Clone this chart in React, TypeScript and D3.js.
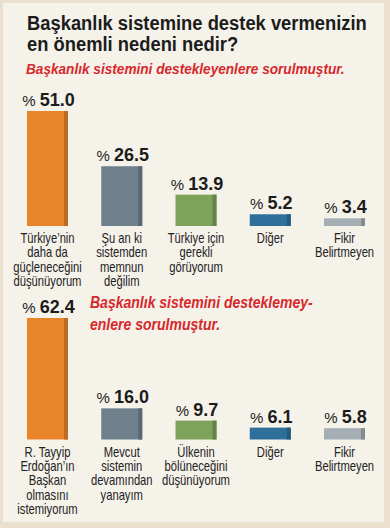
import React, { useEffect, useRef } from 'react';
import * as d3 from 'd3';

// Data
const titleLines = ['Başkanlık sistemine destek vermenizin', 'en önemli nedeni nedir?'];
const subtitle1 = ['Başkanlık sistemini destekleyenlere sorulmuştur.'];
const subtitle2 = ['Başkanlık sistemini desteklemey-', 'enlere sorulmuştur.'];

const categories1 = [
  ['Türkiye’nin', 'daha da', 'güçleneceğini', 'düşünüyorum'],
  ['Şu an ki', 'sistemden', 'memnun', 'değilim'],
  ['Türkiye için', 'gerekli', 'görüyorum'],
  ['Diğer'],
  ['Fikir', 'Belirtmeyen'],
];
const values1 = [51.0, 26.5, 13.9, 5.2, 3.4];

const categories2 = [
  ['R. Tayyip', 'Erdoğan’ın', 'Başkan', 'olmasını', 'istemiyorum'],
  ['Mevcut', 'sistemin', 'devamından', 'yanayım'],
  ['Ülkenin', 'bölüneceğini', 'düşünüyorum'],
  ['Diğer'],
  ['Fikir', 'Belirtmeyen'],
];
const values2 = [62.4, 16.0, 9.7, 6.1, 5.8];

const barColors = ['#e8852b', '#6d808c', '#7da25a', '#2f6f9c', '#a4aeb4'];

const FONT = '"Liberation Sans", Arial, Helvetica, sans-serif';

// multi-line text squeezed horizontally to mimic a condensed face;
// the squeeze is picked so that line `fit[0]` ends up `fit[1]` px wide
const addLines = (parent, lines, x, y, opts) => {
  const t = parent.append('text')
    .attr('text-anchor', opts.anchor || 'start')
    .style('font-family', FONT)
    .style('font-size', opts.size + 'px')
    .style('font-weight', opts.weight || 'normal')
    .style('font-style', opts.italic ? 'italic' : 'normal')
    .attr('fill', opts.color || '#1c1c1c');
  t.selectAll('tspan')
    .data(lines)
    .join('tspan')
    .attr('x', 0)
    .attr('y', (d, i) => i * opts.lh)
    .text(d => d);
  let sx = opts.sx || 1;
  if (opts.fit) {
    const node = t.selectAll('tspan').nodes()[opts.fit[0]];
    const len = node.getComputedTextLength();
    if (len > 0) sx = opts.fit[1] / len;
  }
  t.attr('transform', `translate(${x},${y}) scale(${sx},1)`);
  return sx;
};

// width of a word at a given size, used to squeeze the labels
const measure = (svg, word, size, weight) => {
  const t = svg.append('text')
    .style('font-family', FONT)
    .style('font-size', size + 'px')
    .style('font-weight', weight)
    .text(word);
  const len = t.node().getComputedTextLength();
  t.remove();
  return len;
};

const App = () => {
  const svgRef = useRef(null);

  useEffect(() => {
    if (!svgRef.current) return;
    const width = 390;
    const height = 528;

    const svg = d3.select(svgRef.current);
    svg.selectAll('*').remove();
    svg.attr('width', width).attr('height', height);

    // background frame
    svg.append('rect').attr('width', width).attr('height', height).attr('fill', '#ebdfcd');
    svg.append('rect')
      .attr('x', 3).attr('y', 3)
      .attr('width', width - 9).attr('height', height - 9)
      .attr('fill', '#f5f2ea');

    // title
    addLines(svg, titleLines, 27, 29.5, { fit: [0, 340], size: 21, weight: 'bold', lh: 21.2 });

    const x = d3.scaleBand()
      .domain(d3.range(5))
      .range([27, 365])
      .paddingInner(0.448)
      .paddingOuter(0);

    const fmt = d3.format('.1f');
    const labelSize = 14;
    const labelSx = 68 / measure(svg, 'düşünüyorum', labelSize, 'normal');

    const drawPanel = (values, categories, y, labelY, lh) => {
      const g = svg.append('g');
      const bottom = y.range()[0];

      values.forEach((v, i) => {
        const bx = x(i);
        const bw = x.bandwidth();
        const cx = bx + bw / 2;
        const top = y(v);
        const c = d3.color(barColors[i]);

        g.append('rect')
          .attr('x', bx).attr('y', top)
          .attr('width', bw).attr('height', bottom - top)
          .attr('fill', barColors[i]);
        g.append('rect')
          .attr('x', bx + bw - 4).attr('y', top)
          .attr('width', 4).attr('height', bottom - top)
          .attr('fill', c.darker(0.6).formatHex());

        const t = g.append('text')
          .attr('x', cx + 1)
          .attr('y', top - 5)
          .attr('text-anchor', 'middle')
          .style('font-family', FONT)
          .attr('fill', '#1c1c1c');
        t.append('tspan')
          .style('font-size', '15px')
          .text('%');
        t.append('tspan')
          .attr('dx', 4)
          .style('font-size', '18px')
          .style('font-weight', 'bold')
          .text(fmt(v));

        addLines(g, categories[i], cx, labelY, { sx: labelSx, size: labelSize, lh, anchor: 'middle', color: '#222' });
      });
    };

    // panel 1
    addLines(svg, subtitle1, 26, 74, { fit: [0, 319], size: 15.5, weight: 'bold', italic: true, color: '#d7282b', lh: 22 });
    const y1 = d3.scaleLinear().domain([0, 51]).range([226, 111]);
    drawPanel(values1, categories1, y1, 243.3, 14.2);

    // panel 2
    addLines(svg, subtitle2, 90, 307.7, { fit: [0, 223], size: 16, weight: 'bold', italic: true, color: '#d7282b', lh: 22.5 });
    const y2 = d3.scaleLinear().domain([0, 62.4]).range([439.5, 318]);
    drawPanel(values2, categories2, y2, 456.7, 14.4);
  }, []);

  return (
    <svg ref={svgRef} style={{ position: 'absolute', left: 0, top: 0, display: 'block' }}></svg>
  );
};

export default App;
